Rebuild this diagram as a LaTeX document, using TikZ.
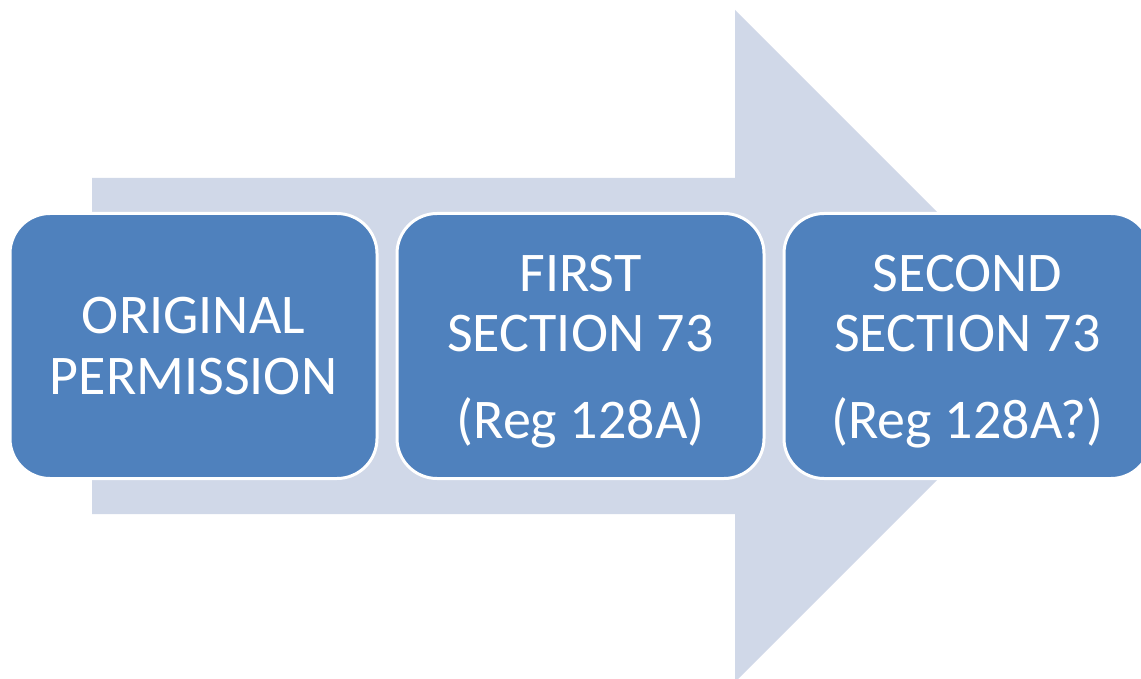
\documentclass[tikz,border=0pt]{standalone}
\usepackage{fontspec}
\setmainfont{Carlito}
\definecolor{stageblue}{RGB}{79,129,189}
\definecolor{arrowgrey}{RGB}{208,216,232}
\usetikzlibrary{positioning}

\begin{document}
\begin{tikzpicture}[x=1pt, y=-1pt,
            stagebox/.style={
                rectangle, rounded corners=40pt,
                draw=white, line width=3pt,
                fill=stageblue, text=white,
                minimum width=367pt,
                minimum height=265pt,
                inner sep=0pt, align=center,
                font=\fontsize{56}{60}\selectfont
            },
        ]
            \useasboundingbox (0,0) rectangle (1141,679);

            % big arrow behind the stages
            \fill[arrowgrey] (92,178) -- (735,178) -- (735,10) -- (1071,346)
                -- (735,682) -- (735,514) -- (92,514) -- cycle;

            \node [stagebox, font=\fontsize{56}{61}\selectfont] (original) at (193.5,346) {ORIGINAL\\PERMISSION};
            \node [stagebox] (first)  [ right= 17pt of original ] {\rule{0pt}{47pt}FIRST\\SECTION 73\\[27pt](Reg 128A)};
            \node [stagebox] (second) [ right= 17pt of first ]    {\rule{0pt}{47pt}SECOND\\SECTION 73\\[27pt](Reg 128A?)};

        \end{tikzpicture}
\end{document}
